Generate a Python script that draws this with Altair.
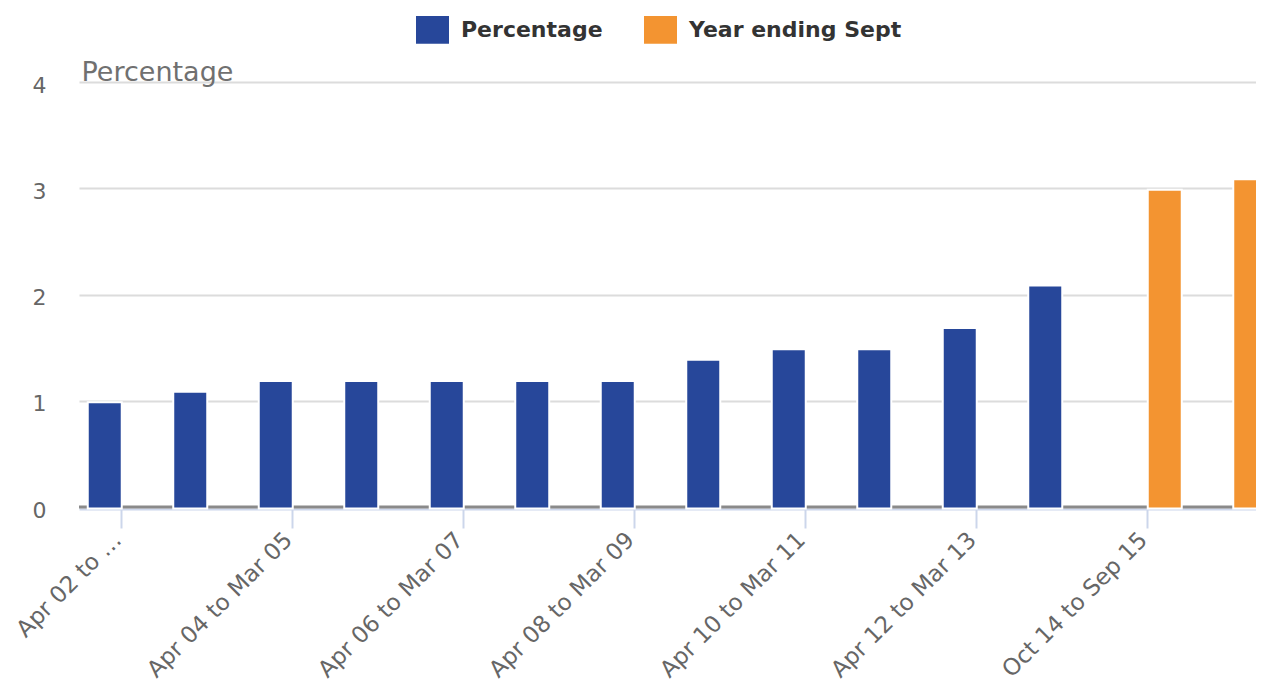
import altair as alt
import pandas as pd

categories = [
    "Apr 02 to Mar 03", "Apr 03 to Mar 04", "Apr 04 to Mar 05", "Apr 05 to Mar 06",
    "Apr 06 to Mar 07", "Apr 07 to Mar 08", "Apr 08 to Mar 09", "Apr 09 to Mar 10",
    "Apr 10 to Mar 11", "Apr 11 to Mar 12", "Apr 12 to Mar 13", "Apr 13 to Mar 14",
    "Oct 14 to Sep 15", "Oct 15 to Sep 16",
]
percentage = [1.0, 1.1, 1.2, 1.2, 1.2, 1.2, 1.2, 1.4, 1.5, 1.5, 1.7, 2.1]
year_ending_sept = [3.0, 3.1]
series_names = ["Percentage", "Year ending Sept"]
series_colors = ["#27479a", "#f39431"]
y_ticks = [0, 1, 2, 3, 4]
x_tick_values = categories[0::2]

rows = []
for c, v in zip(categories[:len(percentage)], percentage):
    rows.append({"cat": c, "series": series_names[0], "value": v})
for c, v in zip(categories[len(percentage):], year_ending_sept):
    rows.append({"cat": c, "series": series_names[1], "value": v})
df = pd.DataFrame(rows)

FONT = "DejaVu Sans"

x_scale = alt.Scale(domain=categories, range=[0, 1197], paddingInner=0.2047, paddingOuter=0.1023)
y_scale = alt.Scale(domain=[0, 4], nice=False)

bars = alt.Chart(df).mark_bar(stroke="white", strokeWidth=2, yOffset=1.5).encode(
    x=alt.X("cat:N", scale=x_scale, sort=categories,
            axis=alt.Axis(title=None, values=x_tick_values,
                          labelExpr="datum.value == 'Apr 02 to Mar 03' ? 'Apr 02 to \u2026' : datum.label",
                          labelAngle=-45, labelAlign="right", labelBaseline="middle",
                          labelFont=FONT, labelFontSize=23, labelColor="#666666",
                          labelLimit=400, labelPadding=8, labelOffset=-4,
                          domainColor="#ccd6eb", domainWidth=2,
                          tickColor="#ccd6eb", tickWidth=2, tickSize=19,
                          offset=2, grid=False, labelOverlap=False)),
    xOffset=alt.XOffset("series:N", scale=alt.Scale(domain=series_names, paddingInner=0, paddingOuter=0)),
    y=alt.Y("value:Q", scale=y_scale,
            axis=alt.Axis(title="Percentage", values=y_ticks, format="d",
                          titleAngle=0, titleX=2, titleY=-1.5,
                          titleAlign="left", titleBaseline="alphabetic",
                          titleFont=FONT, titleFontSize=27, titleFontWeight="normal", titleColor="#707070",
                          labelFont=FONT, labelFontSize=22, labelColor="#666666", labelPadding=33,
                          labelOffset=3,
                          domain=False, ticks=False, grid=True, gridColor="#dcdcdc", gridWidth=2)),
    color=alt.Color("series:N", scale=alt.Scale(domain=series_names, range=series_colors),
                    legend=alt.Legend(title=None, orient="none", direction="horizontal",
                                      legendX=337, legendY=-69,
                                      labelFont=FONT, labelFontSize=22, labelFontWeight="bold",
                                      labelColor="#333333", labelOffset=12, columnPadding=41,
                                      labelLimit=400,
                                      symbolType="M-1,-0.84H1V0.84H-1Z", symbolSize=1089,
                                      symbolStrokeWidth=0, padding=0)),
)

zero_df = pd.DataFrame({"value": [0]})
zero_line = alt.Chart(zero_df).mark_rule(color="#8a8a8a", strokeWidth=3).encode(
    y=alt.Y("value:Q", scale=y_scale)
)

chart = alt.layer(zero_line, bars).properties(
    width=1177, height=425,
    autosize=alt.AutoSizeParams(type="none"),
    padding={"left": 71, "top": 74, "right": 0, "bottom": 175},
).configure_view(stroke=None)

chart.save("out.html", embed_options={"renderer": "svg", "actions": False})
